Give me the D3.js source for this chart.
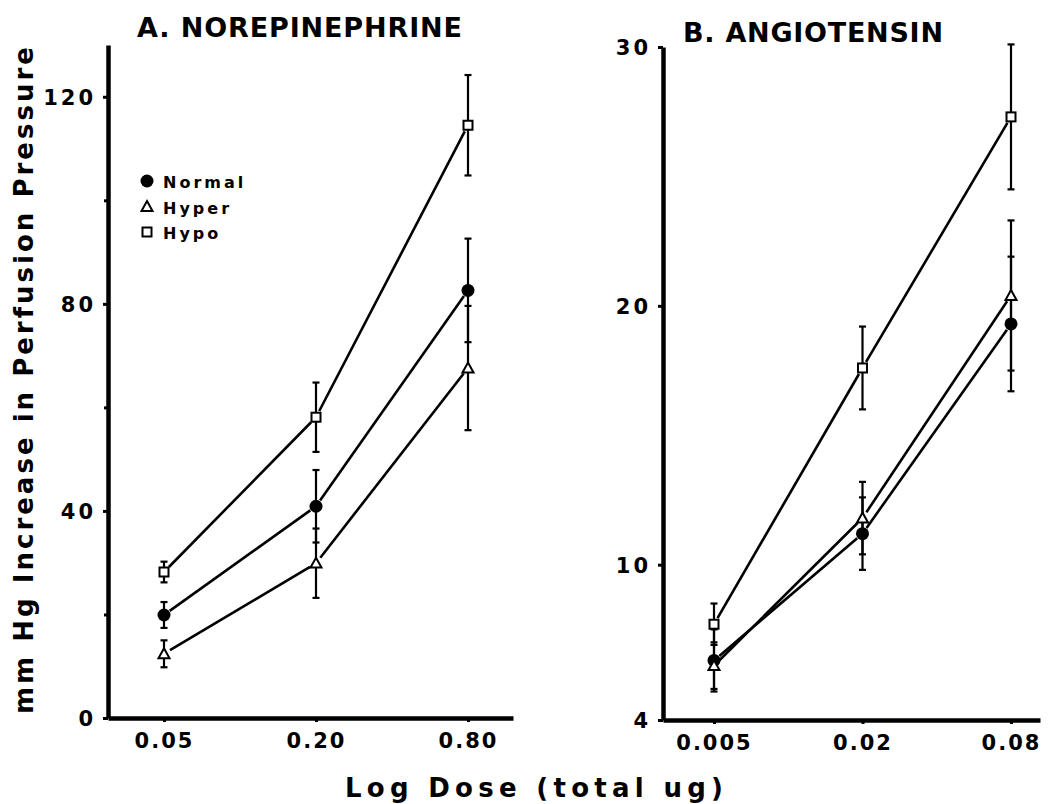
<!DOCTYPE html>
<html>
<head>
<meta charset="utf-8">
<script src="https://cdn.jsdelivr.net/npm/d3@7"></script>
<style>
  html, body { margin: 0; padding: 0; background: #fff; }
  svg { display: block; }
  text { font-family: "DejaVu Sans", sans-serif; fill: #000; }
</style>
</head>
<body>
<svg id="chart" width="1054" height="804"></svg>
<script>
// ---------- DATA ----------
const seriesNames = ["Normal", "Hyper", "Hypo"];

const dosesA = [0.05, 0.20, 0.80];
const doseLabelsA = ["0.05", "0.20", "0.80"];
const normalA = [19.9, 40.9, 82.6];
const normalErrA = [2.5, 7.0, 10.0];
const hyperA = [12.4, 29.9, 67.6];
const hyperErrA = [2.6, 6.7, 12.0];
const hypoA = [28.2, 58.1, 114.5];
const hypoErrA = [2.0, 6.7, 9.7];
const yTicksA = [0, 40, 80, 120];
const yMinorTicksA = [20, 60, 100];

const dosesB = [0.005, 0.02, 0.08];
const doseLabelsB = ["0.005", "0.02", "0.08"];
const normalB = [6.3, 11.2, 19.3];
const normalErrB = [1.2, 1.4, 2.6];
const hyperB = [6.1, 11.8, 20.4];
const hyperErrB = [0.9, 1.4, 2.9];
const hypoB = [7.7, 17.6, 27.3];
const hypoErrB = [0.8, 1.6, 2.8];
const yTicksB = [4, 10, 20, 30];

const titleA = "A. NOREPINEPHRINE";
const titleB = "B. ANGIOTENSIN";
const yLabel = "mm Hg Increase in Perfusion Pressure";
const xLabel = "Log Dose (total ug)";

// ---------- LAYOUT ----------
const svg = d3.select("#chart");

const panels = [
  {
    doses: dosesA, doseLabels: doseLabelsA,
    series: [
      {name: "Normal", v: normalA, e: normalErrA},
      {name: "Hyper", v: hyperA, e: hyperErrA},
      {name: "Hypo", v: hypoA, e: hypoErrA}
    ],
    yDomain: [0, 130], yTicks: yTicksA, yMinor: yMinorTicksA,
    axisLeft: 108, axisRight: 513, firstX: 164, lastX: 468,
    top: 45, bottom: 718,
    title: titleA, titleX: 137, titleY: 37, titleLen: 325
  },
  {
    doses: dosesB, doseLabels: doseLabelsB,
    series: [
      {name: "Normal", v: normalB, e: normalErrB},
      {name: "Hyper", v: hyperB, e: hyperErrB},
      {name: "Hypo", v: hypoB, e: hypoErrB}
    ],
    yDomain: [4, 30], yTicks: yTicksB, yMinor: [],
    axisLeft: 663, axisRight: 1040, firstX: 714, lastX: 1011,
    top: 47, bottom: 720,
    title: titleB, titleX: 683, titleY: 42, titleLen: 260
  }
];

function drawMarker(g, name, cx, cy) {
  if (name === "Normal") {
    g.append("circle").attr("cx", cx).attr("cy", cy).attr("r", 6.5)
      .attr("fill", "#000");
  } else if (name === "Hyper") {
    const s = 5.5;
    g.append("path")
      .attr("d", `M${cx},${cy - s} L${cx + s},${cy + s * 0.8} L${cx - s},${cy + s * 0.8} Z`)
      .attr("fill", "#fff").attr("stroke", "#000").attr("stroke-width", 2);
  } else {
    const s = 4.5;
    g.append("rect").attr("x", cx - s).attr("y", cy - s)
      .attr("width", 2 * s).attr("height", 2 * s)
      .attr("fill", "#fff").attr("stroke", "#000").attr("stroke-width", 2);
  }
}

panels.forEach(p => {
  const g = svg.append("g");

  // log x scale, extended to the axis line ends
  const x0 = d3.scaleLog().domain([p.doses[0], p.doses[p.doses.length - 1]])
    .range([p.firstX, p.lastX]);
  const x = d3.scaleLog()
    .domain([x0.invert(p.axisLeft), x0.invert(p.axisRight)])
    .range([p.axisLeft, p.axisRight]);
  const y = d3.scaleLinear().domain(p.yDomain).range([p.bottom, p.top]);

  // y axis
  const yAx = g.append("g").attr("transform", `translate(${p.axisLeft},0)`)
    .call(d3.axisLeft(y).tickValues(p.yTicks).tickSize(5).tickSizeOuter(0)
      .tickPadding(7).tickFormat(d3.format("d")));
  yAx.select(".domain").attr("stroke-width", 4.5).attr("stroke", "#000");
  yAx.selectAll(".tick line").attr("stroke-width", 3);
  yAx.selectAll(".tick text").style("font-size", "21px")
    .style("font-weight", "bold")
    .style("letter-spacing", "3px").attr("dy", "0.36em");

  // minor ticks
  g.append("g").attr("transform", `translate(${p.axisLeft},0)`)
    .call(d3.axisLeft(y).tickValues(p.yMinor).tickSize(4).tickSizeOuter(0)
      .tickFormat(""))
    .call(s => s.select(".domain").remove())
    .selectAll(".tick line").attr("stroke-width", 3);

  // x axis
  const xAx = g.append("g").attr("transform", `translate(0,${p.bottom})`)
    .call(d3.axisBottom(x).tickValues(p.doses).tickSize(4).tickSizeOuter(0)
      .tickPadding(11).tickFormat((d, i) => p.doseLabels[i]));
  xAx.select(".domain").attr("stroke-width", 4.5).attr("stroke", "#000");
  xAx.selectAll(".tick line").attr("stroke-width", 3);
  xAx.selectAll(".tick text").style("font-size", "21px")
    .style("font-weight", "bold")
    .style("letter-spacing", "2px");

  // title
  g.append("text").attr("x", p.titleX).attr("y", p.titleY)
    .attr("textLength", p.titleLen).attr("lengthAdjust", "spacing")
    .style("font-size", "27px").style("font-weight", "bold")
    .text(p.title);

  // connecting lines with small gaps near the markers
  const gap = 7;
  p.series.forEach(s => {
    const pts = p.doses.map((d, i) => [x(d), y(s.v[i])]);
    for (let i = 0; i < pts.length - 1; i++) {
      const [xa, ya] = pts[i], [xb, yb] = pts[i + 1];
      const len = Math.hypot(xb - xa, yb - ya);
      const ux = (xb - xa) / len, uy = (yb - ya) / len;
      g.append("line")
        .attr("x1", xa + ux * gap).attr("y1", ya + uy * gap)
        .attr("x2", xb - ux * gap).attr("y2", yb - uy * gap)
        .attr("stroke", "#000").attr("stroke-width", 2.6);
    }
  });

  // error bars
  p.series.forEach(s => {
    p.doses.forEach((d, i) => {
      const cx = x(d);
      const yt = y(s.v[i] + s.e[i]), yb = y(s.v[i] - s.e[i]);
      g.append("line").attr("x1", cx).attr("x2", cx).attr("y1", yt).attr("y2", yb)
        .attr("stroke", "#000").attr("stroke-width", 2.2);
      [yt, yb].forEach(yy => {
        g.append("line").attr("x1", cx - 3.5).attr("x2", cx + 3.5)
          .attr("y1", yy).attr("y2", yy)
          .attr("stroke", "#000").attr("stroke-width", 2.2);
      });
    });
  });

  // markers
  p.series.forEach(s => {
    p.doses.forEach((d, i) => drawMarker(g, s.name, x(d), y(s.v[i])));
  });
});

// legend (panel A)
const legend = svg.append("g");
seriesNames.forEach((name, i) => {
  const ly = 182 + i * 25.5;
  drawMarker(legend, name, 147, ly - 1);
  legend.append("text").attr("x", 163).attr("y", ly + 6)
    .style("font-size", "16px").style("font-weight", "bold")
    .style("letter-spacing", "3px")
    .text(name);
});

// y axis label
svg.append("text")
  .attr("transform", "translate(33,714) rotate(-90)")
  .attr("textLength", 667).attr("lengthAdjust", "spacing")
  .style("font-size", "26px").style("font-weight", "bold")
  .text(yLabel);

// x axis label
svg.append("text").attr("x", 345).attr("y", 797)
  .attr("textLength", 378).attr("lengthAdjust", "spacing")
  .style("font-size", "26px").style("font-weight", "bold")
  .text(xLabel);
</script>
</body>
</html>
